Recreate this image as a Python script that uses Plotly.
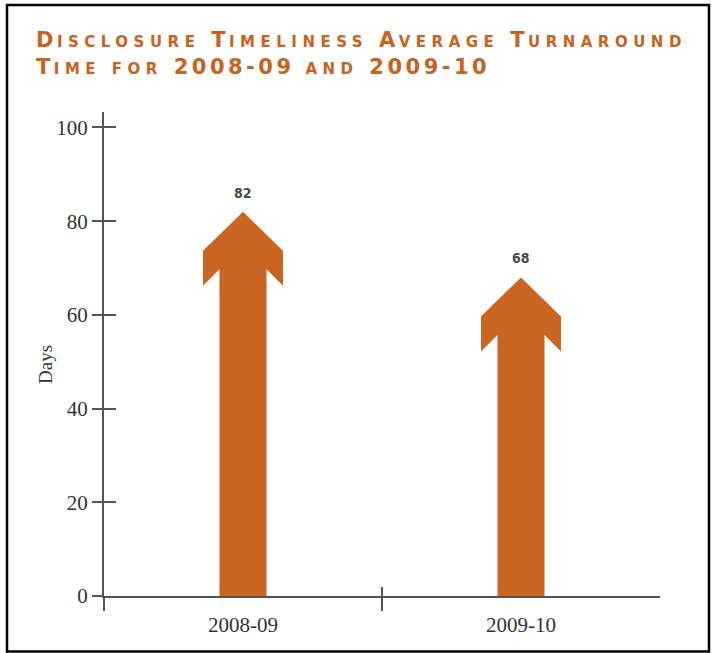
import plotly.graph_objects as go

# Average disclosure turnaround time, in days
categories = ["2008-09", "2009-10"]
days = [82, 68]
y_ticks = [0, 20, 40, 60, 80, 100]

ORANGE = "#CA6522"
AXIS = "#555555"
TEXT = "#333333"

W, H = 714, 653
ML, MR, MT, MB = 104, 54, 112, 57
Y_MAX = 103.3
X_RANGE = [-0.5, len(categories) - 0.5]

px_x = (W - ML - MR) / (X_RANGE[1] - X_RANGE[0])   # pixels per category
px_y = (H - MT - MB) / Y_MAX                        # pixels per day

# arrow proportions (pixels), turned into data units
head_half = 40 / px_x
shaft_half = 23.5 / px_x
shoulder = 39 / px_y
side = 35 / px_y
notch = (40 - 23.5) / px_y

fig = go.Figure()
for i, v in enumerate(days):
    low = v - shoulder - side
    xs = [i, i + head_half, i + head_half, i + shaft_half, i + shaft_half,
          i - shaft_half, i - shaft_half, i - head_half, i - head_half, i]
    ys = [v, v - shoulder, low, low + notch, 0,
          0, low + notch, low, v - shoulder, v]
    fig.add_trace(go.Scatter(
        x=xs, y=ys, mode="lines", fill="toself", fillcolor=ORANGE,
        line=dict(width=0, color=ORANGE), hoverinfo="skip", showlegend=False,
    ))
    fig.add_annotation(
        x=i, y=v, text=str(v), showarrow=False, yanchor="bottom", yshift=9,
        font=dict(family="DejaVu Sans Condensed, Liberation Sans Narrow, sans-serif",
                  size=14, color="#4a4a4a", weight="bold"),
    )

# empty traces so the overlay axes (crossing tick halves) get drawn
fig.add_trace(go.Scatter(x=[], y=[], xaxis="x2", yaxis="y2", showlegend=False))
fig.add_trace(go.Scatter(x=[], y=[], xaxis="x3", yaxis="y2", showlegend=False))

serif = "Liberation Serif, Times New Roman, serif"


def big(s):
    return "<span style='letter-spacing:3.5px'>" + s + "</span>"


def small(s):
    return "<span style='font-size:15px;letter-spacing:5.5px'>" + s + "</span>"


title = (big("D") + small("ISCLOSURE") + big(" T") + small("IMELINESS") + big(" A")
         + small("VERAGE") + big(" T") + small("URNAROUND") + "<br>"
         + big("T") + small("IME FOR") + big(" 2008-09 ") + small("AND") + big(" 2009-10"))

fig.update_layout(
    width=W, height=H,
    margin=dict(l=ML, r=MR, t=MT, b=MB),
    paper_bgcolor="white", plot_bgcolor="white",
    showlegend=False,
    title=dict(text=title, x=36 / W, xref="container", xanchor="left",
               y=1 - 47 / H, yref="container", yanchor="top",
               font=dict(family="DejaVu Sans, sans-serif", size=21, color="#C8621F", weight="bold")),
    xaxis=dict(range=X_RANGE, tickvals=list(range(len(categories))), ticktext=categories,
               ticks="outside", ticklen=9, tickcolor="rgba(0,0,0,0)",
               showline=True, linecolor=AXIS, linewidth=2, showgrid=False, zeroline=False,
               tickfont=dict(family=serif, size=21, color=TEXT)),
    xaxis2=dict(range=X_RANGE, overlaying="x", anchor="y", tickvals=[-0.5, 0.5],
                ticks="outside", ticklen=14, tickwidth=2, tickcolor=AXIS,
                showticklabels=False, showline=False, showgrid=False, zeroline=False),
    xaxis3=dict(range=X_RANGE, overlaying="x", anchor="y", tickvals=[0.5],
                ticks="inside", ticklen=9, tickwidth=2, tickcolor=AXIS,
                showticklabels=False, showline=False, showgrid=False, zeroline=False),
    yaxis=dict(range=[0, Y_MAX], tickvals=y_ticks, ticks="outside", ticklen=10, tickwidth=2,
               tickcolor=AXIS, showline=True, linecolor=AXIS, linewidth=2,
               showgrid=False, zeroline=False,
               tickfont=dict(family=serif, size=21, color=TEXT)),
    yaxis2=dict(range=[0, Y_MAX], overlaying="y", anchor="x", side="left", tickvals=y_ticks,
                ticks="inside", ticklen=12, tickwidth=2, tickcolor=AXIS,
                showticklabels=False, showline=False, showgrid=False, zeroline=False),
)

fig.add_annotation(
    text="Days", textangle=-90, showarrow=False,
    xref="paper", x=(45 - ML) / (W - ML - MR), xanchor="center",
    yref="y", y=49.3, yanchor="middle",
    font=dict(family=serif, size=19, color=TEXT),
)

# outer frame
pw, ph = W - ML - MR, H - MT - MB
fig.add_shape(type="rect", xref="paper", yref="paper",
              x0=(7 - ML) / pw, x1=(709 - ML) / pw,
              y0=(H - MB - 651.5) / ph, y1=(H - MB - 5) / ph,
              line=dict(color="black", width=2.5), fillcolor="rgba(0,0,0,0)", layer="below")

fig.write_html("out.html")
